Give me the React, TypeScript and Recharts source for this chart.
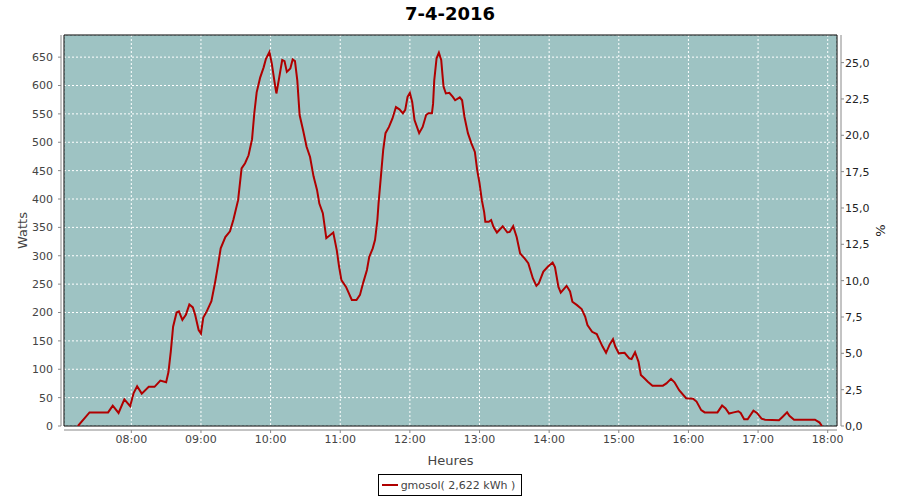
import React from 'react';
import { LineChart, Line, XAxis, YAxis, CartesianGrid, Legend, ReferenceArea } from 'recharts';

// minutes since midnight
const minutes = [
  434, 444, 460, 464, 469, 474, 479, 482, 485, 489, 495, 500, 505, 510, 512, 514, 516, 519, 521, 524,
  527, 530, 533, 535, 538, 540, 542, 545, 549, 552, 555, 557, 561, 565, 568, 572, 575, 578, 581, 584,
  586, 588, 591, 594, 596, 599, 601, 604, 605, 607, 610, 612, 614, 617, 619, 621, 623, 625, 628, 631,
  634, 637, 640, 642, 645, 648, 654, 657, 659, 661, 665, 670, 674, 677, 680, 683, 685, 688, 690, 692,
  693, 695, 697, 699, 702, 705, 708, 711, 714, 716, 718, 720, 722, 724, 728, 731, 734, 736, 739, 740,
  741, 743, 745, 747, 748, 749, 751, 754, 757, 759, 763, 765, 767, 770, 773, 776, 778, 780, 782, 784,
  785, 788, 790, 792, 795, 800, 804, 806, 809, 812, 815, 819, 822, 826, 829, 831, 835, 839, 843, 845,
  848, 850, 855, 858, 860, 864, 868, 871, 873, 877, 881, 883, 886, 889, 892, 895, 897, 900, 905, 909,
  911, 914, 917, 919, 922, 925, 929, 938, 941, 945, 948, 952, 958, 964, 967, 971, 974, 985, 989, 992,
  995, 999, 1003, 1005, 1008, 1011, 1016, 1019, 1023, 1026, 1038, 1041, 1045, 1047, 1051, 1069, 1073, 1075,
];

const watts = [
  0, 24, 24, 36, 23, 47, 35, 58, 70, 57, 69, 69, 80, 77, 95, 131, 175, 200, 202, 187,
  196, 214, 209, 196, 169, 163, 191, 202, 220, 251, 287, 313, 333, 343, 364, 398, 454, 463, 477, 505,
  552, 588, 614, 632, 647, 659, 639, 598, 586, 609, 645, 643, 624, 630, 646, 643, 609, 548, 521, 492,
  474, 440, 416, 392, 375, 331, 341, 310, 281, 257, 245, 222, 222, 231, 254, 275, 298, 313, 328, 363,
  392, 439, 486, 516, 527, 542, 562, 558, 551, 557, 580, 587, 571, 539, 516, 527, 548, 551, 551, 568,
  609, 648, 658, 645, 621, 598, 586, 587, 580, 574, 579, 574, 545, 516, 498, 483, 451, 428, 398, 377,
  360, 360, 363, 351, 341, 352, 341, 342, 352, 333, 304, 295, 287, 260, 247, 251, 272, 281, 288, 280,
  245, 235, 247, 237, 219, 213, 206, 193, 178, 166, 162, 153, 140, 129, 143, 153, 140, 128, 129, 119,
  118, 130, 113, 90, 84, 78, 71, 71, 75, 83, 77, 63, 49, 48, 43, 28, 24, 24, 36, 31,
  22, 24, 26, 23, 12, 12, 27, 23, 13, 11, 10, 16, 24, 18, 11, 11, 6, 0,
];

const hourTicks = [480, 540, 600, 660, 720, 780, 840, 900, 960, 1020, 1080];
const wattTicks = [0, 50, 100, 150, 200, 250, 300, 350, 400, 450, 500, 550, 600, 650];
const pctTicks = [0, 2.5, 5, 7.5, 10, 12.5, 15, 17.5, 20, 22.5, 25];

const X_MIN = 422;
const X_MAX = 1088;
const W_MAX = 689;
const PCT_MAX = 26.9;

const data = minutes.map((m, i) => ({ t: m, w: watts[i] }));

const fmtTime = (m: number) => {
  const h = Math.floor(m / 60);
  const mm = m % 60;
  return `${String(h).padStart(2, '0')}:${String(mm).padStart(2, '0')}`;
};

const fmtPct = (v: number) => v.toFixed(1).replace('.', ',');

const LegendBox = () => (
  <div style={{ display: 'flex', justifyContent: 'center' }}>
    <div
      style={{
        display: 'flex',
        alignItems: 'center',
        border: '1px solid #000',
        height: 20,
        padding: '0 6px 0 3px',
        fontSize: 11,
        color: '#444',
        background: '#fff',
      }}
    >
      <span style={{ display: 'inline-block', width: 16, height: 2, background: '#b00000', marginRight: 3 }} />
      gmosol( 2,622 kWh )
    </div>
  </div>
);

export default function App() {
  return (
    <div style={{ position: 'absolute', left: 0, top: 0, width: 900, height: 500, fontFamily: 'DejaVu Sans', background: '#fff' }}>
      <div
        style={{
          position: 'absolute',
          top: 3,
          left: 0,
          width: 900,
          textAlign: 'center',
          fontWeight: 'bold',
          fontSize: 18,
          color: '#000',
        }}
      >
        7-4-2016
      </div>
      <LineChart width={900} height={500} data={data} margin={{ top: 35, right: 0, bottom: 2, left: 0 }}>
        <CartesianGrid yAxisId="w" stroke="#fff" strokeDasharray="2 2" fill="#9ec3c3" fillOpacity={1} />
        <XAxis
          dataKey="t"
          type="number"
          domain={[X_MIN, X_MAX]}
          allowDataOverflow
          ticks={hourTicks}
          tickFormatter={fmtTime}
          height={48}
          tickSize={3}
          tickMargin={6}
          tick={{ fill: '#444', fontSize: 11 }}
          axisLine={{ stroke: '#888', transform: 'translate(0,4)' }}
          tickLine={{ stroke: '#888', transform: 'translate(0,4)' }}
          label={({ viewBox }: any) => (
            <text x={viewBox.x + viewBox.width / 2} y={465} textAnchor="middle" fontSize={13} fill="#444">
              Heures
            </text>
          )}
        />
        <YAxis
          yAxisId="w"
          domain={[0, W_MAX]}
          allowDataOverflow
          ticks={wattTicks}
          width={64}
          tickSize={3}
          tickMargin={8}
          tick={{ fill: '#444', fontSize: 11 }}
          axisLine={{ stroke: '#888', transform: 'translate(-3,0)' }}
          tickLine={{ stroke: '#888', transform: 'translate(-3,0)' }}
          label={({ viewBox }: any) => (
            <text
              x={22}
              y={viewBox.y + viewBox.height / 2}
              textAnchor="middle"
              dominantBaseline="central"
              fontSize={13}
              fill="#444"
              transform={`rotate(-90, 22, ${viewBox.y + viewBox.height / 2})`}
            >
              Watts
            </text>
          )}
        />
        <YAxis
          yAxisId="pct"
          orientation="right"
          domain={[0, PCT_MAX]}
          allowDataOverflow
          ticks={pctTicks}
          tickFormatter={fmtPct}
          width={63}
          tickSize={3}
          tickMargin={5}
          tick={{ fill: '#222', fontSize: 11 }}
          axisLine={{ stroke: '#888', transform: 'translate(4,0)' }}
          tickLine={{ stroke: '#888', transform: 'translate(4,0)' }}
          label={({ viewBox }: any) => (
            <text
              x={880}
              y={viewBox.y + viewBox.height / 2}
              textAnchor="middle"
              dominantBaseline="central"
              fontSize={13}
              fill="#222"
              transform={`rotate(-90, 880, ${viewBox.y + viewBox.height / 2})`}
            >
              %
            </text>
          )}
        />
        <ReferenceArea yAxisId="w" x1={X_MIN} x2={X_MAX} y1={0} y2={W_MAX} fill="none" stroke="#000" strokeWidth={1} />
        {/* invisible series so the % axis gets its ticks */}
        <Line
          yAxisId="pct"
          type="linear"
          dataKey="pct"
          stroke="none"
          dot={false}
          legendType="none"
          isAnimationActive={false}
        />
        <Line
          yAxisId="w"
          type="linear"
          dataKey="w"
          name="gmosol( 2,622 kWh )"
          stroke="#b00000"
          strokeWidth={2}
          dot={false}
          isAnimationActive={false}
        />
        <Legend verticalAlign="bottom" height={24} content={<LegendBox />} />
      </LineChart>
    </div>
  );
}
